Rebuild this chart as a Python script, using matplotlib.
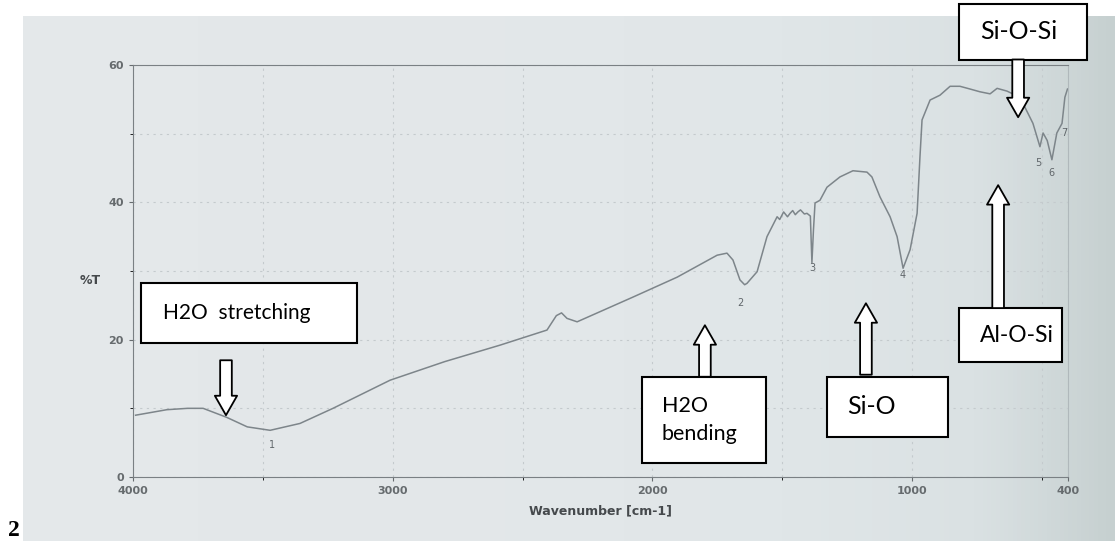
import numpy as np
import matplotlib
matplotlib.use('Agg')
import matplotlib.pyplot as plt
from matplotlib.patches import Rectangle
from matplotlib.colors import LinearSegmentedColormap

# spectrum (wavenumber cm-1, %T)
wavenumber = [3990, 3870, 3790, 3730, 3640, 3560, 3472, 3357, 3230, 3010, 2800,
              2587, 2406, 2370, 2350, 2329, 2290, 2075, 1905, 1751, 1713, 1690,
              1663, 1645, 1636, 1597, 1559, 1520, 1510, 1495, 1480, 1470, 1460,
              1450, 1440, 1430, 1415, 1405, 1392, 1386, 1380, 1374, 1355, 1328,
              1278, 1228, 1174, 1155, 1124, 1085, 1058, 1035, 1008, 981, 970,
              962, 931, 893, 854, 816, 777, 739, 700, 673, 635, 585, 535, 508,
              496, 480, 462, 443, 423, 412, 402]
transmittance = [9.0, 9.8, 10.0, 10.0, 8.7, 7.3, 6.8, 7.8, 10.0, 14.1, 16.8,
                 19.2, 21.4, 23.5, 23.9, 23.1, 22.6, 26.2, 29.1, 32.3, 32.6, 31.6,
                 28.7, 28.0, 28.2, 29.9, 35.0, 37.9, 37.5, 38.6, 37.9, 38.4, 38.8,
                 38.2, 38.6, 38.9, 38.3, 38.4, 38.0, 31.2, 36.0, 39.9, 40.3, 42.2,
                 43.7, 44.6, 44.4, 43.7, 40.8, 37.9, 35.0, 30.4, 33.1, 38.4, 46.6,
                 52.0, 54.9, 55.6, 56.9, 56.9, 56.5, 56.1, 55.8, 56.6, 56.2, 55.3, 51.5, 48.1,
                 50.1, 49.0, 46.2, 50.1, 51.5, 55.3, 56.5]

# numbered peaks
peak_labels = ['1', '2', '3', '4', '5', '6', '7']
peak_wn = [3465, 1663, 1386, 1035, 515, 462, 415]
peak_t = [4.7, 25.3, 30.4, 29.4, 45.7, 44.3, 50.1]

x_ticks = [4000, 3000, 2000, 1000, 400]
y_ticks = [0, 20, 40, 60]

# band annotations: text, box (x0, x1, y0, y1), text inset, font size, arrow tail, arrow tip
notes = [
    ('H2O  stretching', (3969, 3137, 19.5, 28.3), 0.10, 15, (3642, 17.0), (3642, 9.0)),
    ('H2O\nbending', (2040, 1563, 2.0, 14.6), 0.16, 15.5, (1798, 14.6), (1798, 22.1)),
    ('Si-O', (1328, 862, 5.8, 14.6), 0.17, 18, (1178, 14.9), (1178, 25.3)),
    ('Al-O-Si', (820, 423, 16.7, 24.6), 0.2, 16.5, (669, 24.6), (669, 42.5)),
    ('Si-O-Si', (820, 328, 60.8, 68.9), 0.17, 18, (592, 60.8), (592, 52.4)),
]

fig = plt.figure(figsize=(11.15, 5.41), dpi=100)

# photo-like background
bg = fig.add_axes([23/1115, 0, 1 - 23/1115, 1 - 16/541])
bg.axis('off')
cmap = LinearSegmentedColormap.from_list('paper', ['#e4e8ea', '#e0e6e8', '#dae1e3', '#c6d0d0'])
grad = np.linspace(0, 1, 256)[None, :] ** 3
bg.imshow(grad, cmap=cmap, aspect='auto', extent=[0, 1, 0, 1])

ax = fig.add_axes([133/1115, 1 - 477/541, (1068 - 133)/1115, (477 - 65)/541])
ax.patch.set_alpha(0)
ax.plot(wavenumber, transmittance, color='#7d858a', lw=1.1)

ax.set_xlim(4000, 400)
ax.set_ylim(0, 60)
ax.set_xticks(x_ticks)
ax.set_yticks(y_ticks)
ax.set_xticks(np.arange(500, 4000, 500), minor=True)
ax.set_yticks(np.arange(10, 60, 10), minor=True)
ax.grid(True, which='both', ls=(0, (2, 4)), color='#c4cacd', lw=0.8)
ax.tick_params(labelsize=8, colors='#666b6e', length=3)
for lab in ax.get_xticklabels() + ax.get_yticklabels():
    lab.set_fontweight('bold')
for sp in ax.spines.values():
    sp.set_color('#7a8084')
ax.spines['right'].set_color('#b0b8bb')

ax.set_xlabel('Wavenumber [cm-1]', fontsize=9, fontweight='bold', color='#45494c', labelpad=6)
fig.text(80/1115, 1 - 280/541, '%T', fontsize=9, fontweight='bold', color='#45494c', va='center')

for lab, w, t in zip(peak_labels, peak_wn, peak_t):
    ax.text(w, t, lab, fontsize=7, color='#60666a', ha='center', va='center')

for text, (x0, x1, y0, y1), inset, size, tail, tip in notes:
    ax.add_patch(Rectangle((x0, y0), x1 - x0, y1 - y0, fc='white', ec='black',
                           lw=1.5, clip_on=False, zorder=5))
    ax.text(x0 + (x1 - x0) * inset, (y0 + y1) / 2, text,
            fontsize=size, family='Lato', ha='left', va='center', zorder=6,
            linespacing=1.5)
    ax.annotate('', xy=tip, xytext=tail, zorder=6, annotation_clip=False,
                arrowprops=dict(arrowstyle='simple,head_length=0.7,head_width=0.8,tail_width=0.42',
                                mutation_scale=20, fc='white', ec='black', lw=1.3,
                                shrinkA=0, shrinkB=0))

fig.text(8/1115, 1 - 530/541, '2', fontsize=17, fontweight='bold',
         family='Liberation Serif', va='center')

fig.savefig('out.png', dpi=100)
